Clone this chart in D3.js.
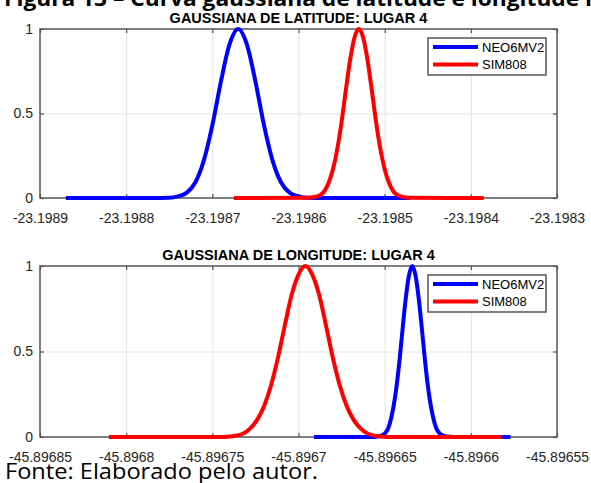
<!DOCTYPE html>
<html>
<head>
<meta charset="utf-8">
<script src="https://cdn.jsdelivr.net/npm/d3@7"></script>
<style>
  body { margin: 0; background: #fff; }
  svg { display: block; }
  .page__text { font-family: "Open Sans", "Noto Sans", sans-serif; fill: #000; }
  .panel__title { font: bold 14.5px "Liberation Sans", Arial, sans-serif; fill: #000; }
  .panel__axis text { font: 14px "Liberation Sans", Arial, sans-serif; fill: #262626; }
  .panel__axis line { stroke: #555; stroke-width: 1.2; }
  .panel__grid line { stroke: #e3e3e3; stroke-width: 1; }
  .panel__legend text { font: 13px "Liberation Sans", Arial, sans-serif; fill: #000; }
</style>
</head>
<body>
<div id="chart"></div>
<script>
const seriesNames = ['NEO6MV2', 'SIM808'];
const seriesColors = ['#0000ff', '#ff0000'];
const yTicks = [0, 0.5, 1];

// latitude panel
const latTicks = [-23.1989, -23.1988, -23.1987, -23.1986, -23.1985, -23.1984, -23.1983];
const latNeoX = [-23.19887, -23.19877, -23.19875, -23.19874, -23.19873, -23.19872, -23.19871, -23.1987, -23.19869, -23.19868, -23.19867,
  -23.19866, -23.19865, -23.19864, -23.19863, -23.19862, -23.19861, -23.1986, -23.19859, -23.19857, -23.19847];
const latNeoY = [0, 0, 0.002, 0.01, 0.03, 0.09, 0.22, 0.43, 0.69, 0.91, 1, 0.91, 0.69, 0.43, 0.22, 0.09, 0.03, 0.01, 0.002, 0, 0];
const latSimX = [-23.198675, -23.19859, -23.19858, -23.198575, -23.19857, -23.198565, -23.19856, -23.198555, -23.19855, -23.198545, -23.19854, -23.198535, -23.19853,
  -23.198525, -23.19852, -23.198515, -23.19851, -23.198505, -23.1985, -23.198495, -23.19849, -23.198485, -23.19848, -23.19847, -23.198385];
const latSimY = [0, 0.001, 0.007, 0.017, 0.04, 0.09, 0.17, 0.29, 0.45, 0.64, 0.82, 0.95, 1, 0.95, 0.82, 0.64, 0.45, 0.29, 0.17, 0.09, 0.04, 0.017, 0.007, 0.001, 0];

// longitude panel
const lonTicks = [-45.89685, -45.8968, -45.89675, -45.8967, -45.89665, -45.8966, -45.89655];
const lonNeoX = [-45.896691, -45.896658, -45.896654, -45.896652, -45.89665, -45.896648, -45.896646, -45.896644, -45.896642, -45.89664, -45.896638, -45.896636, -45.896634,
  -45.896632, -45.89663, -45.896628, -45.896626, -45.896624, -45.896622, -45.89662, -45.896618, -45.896616, -45.896614, -45.89661, -45.896577];
const lonNeoY = [0, 0, 0.003, 0.008, 0.02, 0.05, 0.12, 0.23, 0.39, 0.59, 0.79, 0.94, 1, 0.94, 0.79, 0.59, 0.39, 0.23, 0.12, 0.05, 0.02, 0.008, 0.003, 0, 0];
const lonSimX = [-45.89681, -45.896746, -45.89674, -45.896736, -45.896732, -45.896728, -45.896724, -45.89672, -45.896716, -45.896712, -45.896708, -45.896704, -45.8967, -45.896696,
  -45.896692, -45.896688, -45.896684, -45.89668, -45.896676, -45.896672, -45.896668, -45.896664, -45.89666, -45.896656, -45.896652, -45.896646, -45.896582];
const lonSimY = [0, 0, 0.003, 0.008, 0.02, 0.05, 0.1, 0.18, 0.3, 0.46, 0.65, 0.83, 0.95, 1, 0.95, 0.83, 0.65, 0.46, 0.3, 0.18, 0.1, 0.05, 0.02, 0.008, 0.003, 0, 0];

const width = 591;
const height = 483;

const svg = d3.select('#chart')
  .append('svg')
    .attr('width', width)
    .attr('height', height);

svg.append('rect')
  .attr('width', width)
  .attr('height', height)
  .attr('fill', '#fff');

svg.append('text')
  .attr('class', 'page__text')
  .attr('x', 4)
  .attr('y', 6)
  .attr('font-size', 22)
  .attr('font-weight', 'bold')
  .attr('textLength', 596)
  .attr('lengthAdjust', 'spacingAndGlyphs')
  .text('Figura 13 – Curva gaussiana de latitude e longitude n');

svg.append('text')
  .attr('class', 'page__text')
  .attr('x', 5)
  .attr('y', 479)
  .attr('font-size', 22)
  .attr('textLength', 313)
  .attr('lengthAdjust', 'spacingAndGlyphs')
  .text('Fonte: Elaborado pelo autor.');

function drawPanel(options) {
  const { left, top, innerWidth, innerHeight, title, ticks, series } = options;

  const g = svg.append('g')
    .attr('transform', `translate(${left}, ${top})`);

  const scaleX = d3.scaleLinear()
    .domain(d3.extent(ticks))
    .range([0, innerWidth]);

  const scaleY = d3.scaleLinear()
    .domain([0, 1])
    .range([innerHeight, 0]);

  // grid
  g.append('g')
      .attr('class', 'panel__grid')
      .attr('transform', `translate(0, ${innerHeight})`)
      .call(d3.axisBottom(scaleX).tickValues(ticks.slice(1, -1)).tickSize(-innerHeight).tickFormat(''))
      .call(s => s.select('.domain').remove());

  g.append('g')
      .attr('class', 'panel__grid')
      .call(d3.axisLeft(scaleY).tickValues([0.5]).tickSize(-innerWidth).tickFormat(''))
      .call(s => s.select('.domain').remove());

  // box
  g.append('rect')
    .attr('width', innerWidth)
    .attr('height', innerHeight)
    .attr('fill', 'none')
    .attr('stroke', '#555')
    .attr('stroke-width', 1.5);

  // axes with inward ticks
  g.append('g')
      .attr('class', 'panel__axis')
      .attr('transform', `translate(0, ${innerHeight})`)
      .call(d3.axisBottom(scaleX).tickValues(ticks).tickSize(-4).tickPadding(15).tickFormat(d => String(d)))
      .call(s => s.select('.domain').remove());

  g.append('g')
      .attr('class', 'panel__axis')
      .call(d3.axisTop(scaleX).tickValues(ticks).tickSize(-4).tickFormat(''))
      .call(s => s.select('.domain').remove());

  g.append('g')
      .attr('class', 'panel__axis')
      .call(d3.axisLeft(scaleY).tickValues(yTicks).tickSize(-4).tickPadding(7).tickFormat(d => String(d)))
      .call(s => s.select('.domain').remove());

  g.append('g')
      .attr('class', 'panel__axis')
      .attr('transform', `translate(${innerWidth}, 0)`)
      .call(d3.axisRight(scaleY).tickValues(yTicks).tickSize(-4).tickFormat(''))
      .call(s => s.select('.domain').remove());

  g.append('text')
    .attr('class', 'panel__title')
    .attr('x', innerWidth / 2)
    .attr('y', -6)
    .attr('text-anchor', 'middle')
    .text(title);

  // curves
  const line = d3.line()
    .x(d => scaleX(d[0]))
    .y(d => scaleY(d[1]))
    .curve(d3.curveMonotoneX);

  series.forEach((s, i) => {
    g.append('path')
      .datum(d3.zip(s.x, s.y))
      .attr('fill', 'none')
      .attr('stroke', seriesColors[i])
      .attr('stroke-width', 4)
      .attr('stroke-linejoin', 'round')
      .attr('d', line);
  });

  // legend
  const legend = g.append('g')
    .attr('class', 'panel__legend')
    .attr('transform', `translate(${innerWidth - 129}, 9)`);

  legend.append('rect')
    .attr('width', 118)
    .attr('height', 37)
    .attr('fill', '#fff')
    .attr('stroke', '#555')
    .attr('stroke-width', 1.5);

  seriesNames.forEach((name, i) => {
    const y = 9 + i * 17.5;

    legend.append('line')
      .attr('x1', 5)
      .attr('x2', 50)
      .attr('y1', y)
      .attr('y2', y)
      .attr('stroke', seriesColors[i])
      .attr('stroke-width', 4);

    legend.append('text')
      .attr('x', 54)
      .attr('y', y)
      .attr('dy', '0.36em')
      .text(name);
  });
}

drawPanel({
  left: 40,
  top: 29,
  innerWidth: 517,
  innerHeight: 169,
  title: 'GAUSSIANA DE LATITUDE: LUGAR 4',
  ticks: latTicks,
  series: [{ x: latNeoX, y: latNeoY }, { x: latSimX, y: latSimY }]
});

drawPanel({
  left: 40,
  top: 266,
  innerWidth: 517,
  innerHeight: 171,
  title: 'GAUSSIANA DE LONGITUDE: LUGAR 4',
  ticks: lonTicks,
  series: [{ x: lonNeoX, y: lonNeoY }, { x: lonSimX, y: lonSimY }]
});
</script>
</body>
</html>
